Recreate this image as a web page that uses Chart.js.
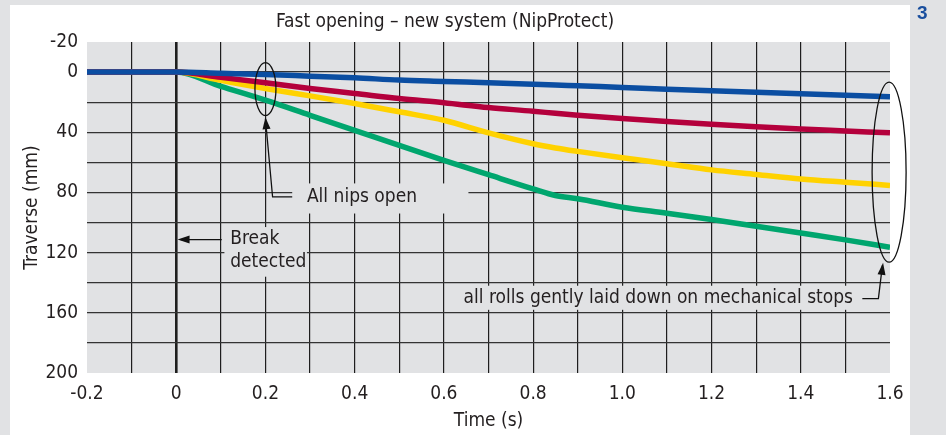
<!DOCTYPE html>
<html>
<head>
<meta charset="utf-8">
<script src="https://cdn.jsdelivr.net/npm/chart.js@4.4.1/dist/chart.umd.min.js"></script>
<style>
  body { margin: 0; background: #e1e2e4; }
  #wrap { width: 946px; height: 435px; position: relative; }
</style>
</head>
<body>
<div id="wrap"><canvas id="nipChart"></canvas></div>
<script>
// time axis (s) and traverse of each roll (mm)
const times   = [-0.2, 0, 0.1, 0.2, 0.3, 0.4, 0.5, 0.6, 0.7, 0.8, 0.85, 0.9, 1.0, 1.1, 1.2, 1.3, 1.4, 1.5, 1.6];
const blueMm   = [0, 0, 0.8, 1.6, 2.7, 3.8, 5.3, 6.2, 7.1, 8.0, 8.5, 9.1, 10.2, 11.4, 12.4, 13.4, 14.4, 15.4, 16.4];
const redMm    = [0, 0, 3.5, 7.1, 10.9, 14.2, 17.6, 20.4, 23.6, 26.0, 27.4, 28.7, 30.9, 32.9, 34.7, 36.3, 37.8, 39.1, 40.4];
const yellowMm = [0, 0, 5.5, 10.9, 15.8, 20.9, 26.4, 32.0, 40.4, 47.6, 50.4, 52.7, 56.9, 60.9, 65.0, 68.0, 71.0, 73.2, 75.3];
const greenMm  = [0, 0, 9.5, 18.7, 28.7, 38.7, 48.7, 58.7, 68.2, 77.6, 82.0, 84.2, 89.8, 93.8, 98.0, 102.5, 107.0, 111.5, 116.5];

const xLabels = [-0.2, 0, 0.2, 0.4, 0.6, 0.8, 1.0, 1.2, 1.4, 1.6];
const yLabels = [-20, 0, 40, 80, 120, 160, 200];

const FONT = '"Liberation Sans Narrow", "DejaVu Sans Condensed", sans-serif';
const INK = '#231f20';
const SIZE = 19;
Chart.defaults.font.family = FONT;
Chart.defaults.color = INK;

function pairs(ys) {
  return times.map((t, i) => ({ x: t, y: ys[i] }));
}

function arrowHead(ctx, x, y, ang) {
  // filled arrow head with tip at x,y pointing along ang
  const len = 12, half = 4;
  ctx.save();
  ctx.translate(x, y);
  ctx.rotate(ang);
  ctx.beginPath();
  ctx.moveTo(0, 0);
  ctx.lineTo(-len, -half);
  ctx.lineTo(-len, half);
  ctx.closePath();
  ctx.fill();
  ctx.restore();
}

const backdrop = {
  id: 'backdrop',
  beforeDraw(chart) {
    const {ctx, chartArea: a} = chart;
    ctx.save();
    ctx.fillStyle = '#e1e2e4';
    ctx.fillRect(0, 0, chart.width, chart.height);
    ctx.fillStyle = '#ffffff';
    ctx.fillRect(10, 5, 900, chart.height - 5);
    ctx.fillStyle = '#e1e2e4';
    ctx.fillRect(a.left, a.top, a.right - a.left, a.bottom - a.top);
    // figure number
    ctx.fillStyle = '#1a4f9e';
    ctx.font = 'bold 19px "Liberation Sans", sans-serif';
    ctx.textBaseline = 'top';
    ctx.fillText('3', 917, 4);
    ctx.restore();
  }
};

const notes = {
  id: 'notes',
  afterDatasetsDraw(chart) {
    const {ctx} = chart;
    const X = v => chart.scales.x.getPixelForValue(v);
    const Y = v => chart.scales.y.getPixelForValue(v);
    ctx.save();
    ctx.strokeStyle = '#111';
    ctx.fillStyle = '#111';
    ctx.lineWidth = 1.3;

    // label boxes hide the grid behind them
    ctx.fillStyle = '#e1e2e4';
    ctx.fillRect(X(0.26), Y(74), X(0.655) - X(0.26), Y(94) - Y(74));
    ctx.fillRect(X(0.108), Y(103), X(0.293) - X(0.108), Y(136) - Y(103));
    ctx.fillRect(X(0.62), Y(142), X(1.59) - X(0.62), Y(158) - Y(142));
    ctx.fillStyle = '#111';

    // all nips open
    ctx.beginPath();
    ctx.ellipse(X(0.2), Y(11.3), 10.5, 26.5, 0, 0, Math.PI * 2);
    ctx.stroke();
    ctx.beginPath();
    ctx.moveTo(X(0.26), Y(83));
    ctx.lineTo(X(0.216), Y(83));
    ctx.lineTo(X(0.2), Y(31));
    ctx.stroke();
    arrowHead(ctx, X(0.2), Y(30), Math.atan2(Y(30) - Y(83), X(0.2) - X(0.216)));

    // break detected
    ctx.beginPath();
    ctx.moveTo(X(0.102), Y(111.3));
    ctx.lineTo(X(0.01), Y(111.3));
    ctx.stroke();
    arrowHead(ctx, X(0.003), Y(111.3), Math.PI);

    // mechanical stops
    ctx.beginPath();
    ctx.ellipse(X(1.598), Y(66.5), 17, 90, 0, 0, Math.PI * 2);
    ctx.stroke();
    ctx.beginPath();
    ctx.moveTo(X(1.538), Y(150.5));
    ctx.lineTo(X(1.574), Y(150.5));
    ctx.lineTo(X(1.583), Y(128.5));
    ctx.stroke();
    arrowHead(ctx, X(1.5845), Y(126.8), Math.atan2(Y(126.8) - Y(150.5), X(1.5845) - X(1.574)));

    ctx.fillStyle = INK;
    ctx.font = SIZE + 'px ' + FONT;
    ctx.textBaseline = 'middle';
    ctx.textAlign = 'left';
    ctx.fillText('All nips open', X(0.293), Y(83));
    ctx.fillText('Break', X(0.121), Y(111.3));
    ctx.fillText('detected', X(0.121), Y(126.3));
    ctx.textAlign = 'right';
    ctx.fillText('all rolls gently laid down on mechanical stops', X(1.517), Y(150.5));
    ctx.restore();
  }
};

function series(label, ys, color) {
  return {
    label: label,
    data: pairs(ys),
    borderColor: color,
    backgroundColor: color,
    borderWidth: 5.5,
    pointRadius: 0,
    cubicInterpolationMode: 'monotone',
    fill: false
  };
}

const ctx = document.getElementById('nipChart').getContext('2d');
const nipChart = new Chart(ctx, {
  type: 'line',
  data: {
    datasets: [
      series('Roll 1', blueMm, '#0b4ea2'),
      series('Roll 2', redMm, '#b4003c'),
      series('Roll 3', yellowMm, '#ffd200'),
      series('Roll 4', greenMm, '#00a66e')
    ]
  },
  options: {
    responsive: true,
    maintainAspectRatio: false,
    devicePixelRatio: 1,
    animation: false,
    layout: { padding: { left: 0, right: 56, top: 0, bottom: 0 } },
    plugins: {
      legend: { display: false },
      tooltip: { enabled: false },
      title: {
        display: true,
        text: 'Fast opening \u2013 new system (NipProtect)',
        color: INK,
        font: { size: SIZE, weight: 'normal', lineHeight: 1.2 },
        padding: { top: 10.6, bottom: 8.6 }
      }
    },
    scales: {
      x: {
        type: 'linear',
        min: -0.2,
        max: 1.6,
        border: { display: false },
        grid: {
          drawTicks: false,
          color: c => {
            const v = Math.round(c.tick.value * 10);
            return (v === -2 || v === 16) ? 'rgba(0,0,0,0)' : '#1e1e1e';
          },
          lineWidth: c => Math.round(c.tick.value * 10) === 0 ? 2.6 : 1.2
        },
        ticks: {
          stepSize: 0.1,
          autoSkip: false,
          maxRotation: 0,
          padding: 10,
          color: INK,
          font: { size: SIZE },
          callback: v => {
            const hit = xLabels.find(l => Math.abs(l - v) < 1e-6);
            if (hit === undefined) return '';
            return hit === 0 ? '0' : hit.toFixed(1);
          }
        },
        title: {
          display: true,
          text: 'Time (s)',
          color: INK,
          font: { size: SIZE },
          padding: { top: 0, bottom: 3 }
        },
        afterFit: s => { s.height = 62; }
      },
      y: {
        type: 'linear',
        reverse: true,
        min: -20,
        max: 200,
        border: { display: false },
        grid: {
          drawTicks: false,
          color: c => (c.tick.value === -20 || c.tick.value === 200) ? 'rgba(0,0,0,0)' : '#333',
          lineWidth: 1.3
        },
        ticks: {
          stepSize: 20,
          autoSkip: false,
          padding: 9,
          color: INK,
          font: { size: SIZE },
          callback: v => yLabels.includes(v) ? String(v) : ''
        },
        title: {
          display: true,
          text: 'Traverse (mm)',
          color: INK,
          font: { size: SIZE },
          padding: { top: 21, bottom: 0 }
        },
        afterFit: s => { s.width = 87; }
      }
    }
  },
  plugins: [backdrop, notes]
});
</script>
</body>
</html>
